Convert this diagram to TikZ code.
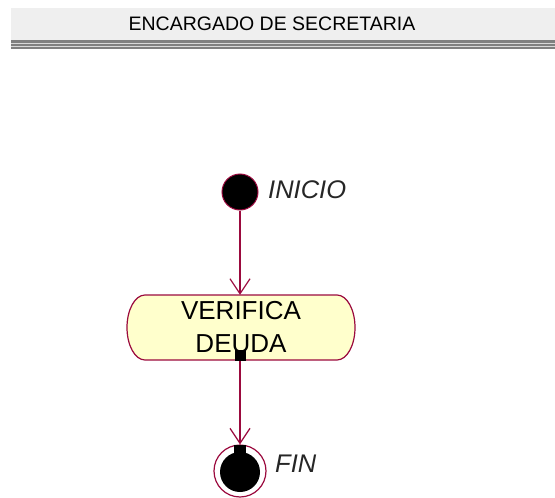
\documentclass[tikz,border=0pt]{standalone}
\usepackage{fontspec}
\setmainfont{Liberation Sans}
\usetikzlibrary{arrows.meta}
\definecolor{umlred}{HTML}{9B0A3E}
\definecolor{actfill}{HTML}{FFFFCC}
\definecolor{hdrlight}{HTML}{EFEFEF}
\definecolor{hdrdark}{HTML}{808080}
\tikzset{
  flow/.style={draw=umlred, line width=1.2pt, -{Straight Barb[length=15pt,width=20pt,line width=1.2pt]}},
  actbox/.style={minimum width=228pt, minimum height=65pt, inner sep=0pt, align=center,
    font=\fontsize{26}{33}\selectfont},
  actborder/.style={draw=umlred, line width=1.2pt, fill=actfill},
  startnode/.style={circle, fill=black, draw=umlred, line width=1pt, minimum size=36pt, inner sep=0pt},
  endring/.style={circle, draw=umlred, line width=1.2pt, minimum size=52pt, inner sep=0pt},
  endcore/.style={circle, fill=black, minimum size=40pt, inner sep=0pt},
  lbl/.style={anchor=base west, inner sep=0pt, font=\fontsize{25.5}{30}\selectfont\itshape, text=black!85},
  pin/.style={fill=black, inner sep=0pt}
}
\begin{document}
\begin{tikzpicture}[x=1pt,y=-1pt]
\useasboundingbox (0,0) rectangle (555,498);
% header
\fill[hdrlight] (11,8) rectangle (555,40);
\fill[hdrdark] (11,40) rectangle (555,49);
\draw[white!70!gray, line width=0.6pt] (11,43) -- (555,43);
\draw[white!70!gray, line width=0.6pt] (11,46) -- (555,46);
\node[font=\fontsize{19.5}{22}\selectfont, anchor=base] (hdr) at (272,30) {ENCARGADO DE SECRETARIA};
% action node with elliptical ends
\coordinate (actc) at (241,327.5);
\path[actborder] ([shift={(-96pt,32.5pt)}]actc) -- ([shift={(96pt,32.5pt)}]actc)
  arc[start angle=90, end angle=-90, x radius=18pt, y radius=32.5pt]
  -- ([shift={(-96pt,-32.5pt)}]actc)
  arc[start angle=270, end angle=90, x radius=18pt, y radius=32.5pt] -- cycle;
\node[actbox] (act) at (actc) {VERIFICA\\DEUDA};
% other nodes
\node[startnode] (ini) at (240,192) {};
\node[lbl] (inilbl) at (268,198) {INICIO};
\node[endring] (fin) at (240,471) {};
\node[endcore] (fincore) at (240,472) {};
\node[lbl] (finlbl) at (275,472) {FIN};
% pins
\node[pin, minimum width=11pt, minimum height=11pt] (pinout) at (240,355) {};
\node[pin, minimum width=12pt, minimum height=8pt] (pinin) at (240,449) {};
% connectors
\draw[flow] (ini.south) -- (ini.south |- act.north);
\draw[flow] (pinout.south) -- (fin.north);
\end{tikzpicture}
\end{document}
